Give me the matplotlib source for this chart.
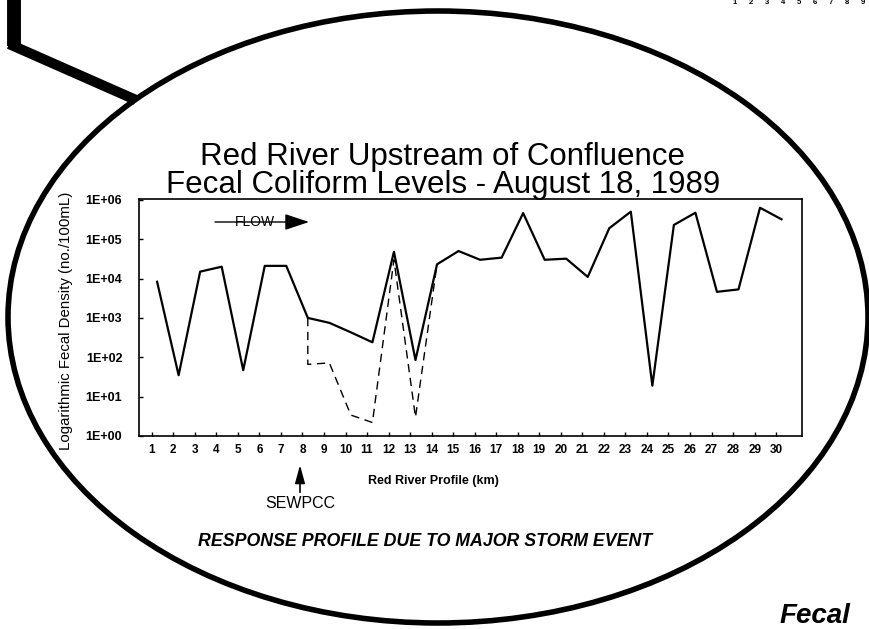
import matplotlib
matplotlib.use('Agg')
import matplotlib.pyplot as plt
from matplotlib.patches import Ellipse
from matplotlib.ticker import FixedLocator, FuncFormatter
import numpy as np

plt.rcParams['font.family'] = ['Liberation Sans', 'DejaVu Sans']

# profile stations (km) and fecal coliform densities (no./100mL)
km = list(range(1, 31))
km_labels = [str(k) for k in km]
fecal = [8.3e3, 35, 1.5e4, 2.0e4, 47, 2.1e4, 2.1e4, 1.0e3, 7.5e2, 4.3e2,
         2.4e2, 4.8e4, 85, 2.3e4, 5.0e4, 3.0e4, 3.4e4, 4.6e5, 3.0e4, 3.2e4,
         1.1e4, 1.9e5, 5.0e5, 19, 2.3e5, 4.7e5, 4.6e3, 5.3e3, 6.3e5, 3.2e5]

# storm response (dashed) below the SEWPCC outfall
storm_km = [8, 8, 9, 10, 11, 12, 13, 14]
storm = [1.0e3, 66, 72, 3.4, 2.2, 3.0e4, 3.0, 2.3e4]

y_ticks = [1e0, 1e1, 1e2, 1e3, 1e4, 1e5, 1e6]

# page-number strip of the neighbouring figure (top right)
strip_labels = ['1', '2', '3', '4', '5', '6', '7', '8', '9']

W, H = 870, 629
fig = plt.figure(figsize=(W / 100, H / 100), dpi=100)

# background layer in pixel coordinates
bg = fig.add_axes([0, 0, 1, 1])
bg.set_xlim(0, W)
bg.set_ylim(H, 0)
bg.axis('off')

bg.plot([14, 14], [-5, 46], color='k', lw=10, solid_capstyle='butt')
bg.plot([9, 136], [44, 100], color='k', lw=7.3, solid_capstyle='butt')
bg.add_patch(Ellipse((438, 317), 860, 612, fill=False, lw=4, ec='k'))

bg.text(443, 171, 'Red River Upstream of Confluence\n'
        'Fecal Coliform Levels - August 18, 1989', fontsize=22.5,
        ha='center', va='center', multialignment='center', linespacing=0.95)

bg.text(66, 321, 'Logarithmic Fecal Density (no./100mL)', fontsize=10.8,
        rotation=90, ha='center', va='center')
bg.text(433, 481, 'Red River Profile (km)', fontsize=9, fontweight='bold',
        ha='center', va='center')

bg.plot([300, 300], [478, 492], color='k', lw=1.2)
bg.annotate('', xy=(300, 465), xytext=(300, 482),
            arrowprops=dict(arrowstyle='-|>,head_length=1.1,head_width=0.3',
                            color='k', lw=1.2, shrinkA=0, shrinkB=0))
bg.text(300, 503, 'SEWPCC', fontsize=11.5, ha='center', va='center')

bg.text(425, 542, 'RESPONSE PROFILE DUE TO MAJOR STORM EVENT', fontsize=12.8,
        fontweight='bold', fontstyle='italic', ha='center', va='center')

# FLOW arrow
bg.annotate('', xy=(309, 222), xytext=(215, 222),
            arrowprops=dict(arrowstyle='-|>,head_length=1.5,head_width=0.5',
                            color='k', lw=1.0, shrinkA=0, shrinkB=0))
bg.text(255, 222, 'FLOW', fontsize=10, ha='center', va='center')

# bits of neighbouring figures
for i, s in enumerate(strip_labels):
    bg.text(735 + 16 * i, 3, s, fontsize=5.5, fontweight='bold',
            ha='center', va='center')
bg.text(815, 616, 'Fecal', fontsize=20, fontweight='bold', fontstyle='italic',
        ha='center', va='center')

# chart axes
x0, x1, y0, y1 = 139, 802, 199, 436
ax = fig.add_axes([x0 / W, 1 - y1 / H, (x1 - x0) / W, (y1 - y0) / H])
ax.set_facecolor('none')
ax.set_yscale('log')
ax.set_ylim(1, 1.05e6)
ax.set_xlim(0.41, 31.2)

xs = np.array(km) + 0.25
ax.plot(xs, fecal, color='k', lw=1.6)
ax.plot(np.array(storm_km) + 0.25, storm, color='k', lw=1.0,
        dashes=(6, 4))

ax.yaxis.set_major_locator(FixedLocator(y_ticks))
ax.yaxis.set_minor_locator(FixedLocator([]))
ax.yaxis.set_major_formatter(FuncFormatter(lambda v, p: '1E+%02d' % round(np.log10(v))))
ax.set_xticks(km)
ax.set_xticklabels(km_labels)
ax.tick_params(direction='in', length=3, width=1)
ax.tick_params(axis='y', labelsize=9, pad=12)
ax.tick_params(axis='x', labelsize=8.5, pad=6)
for lbl in ax.get_xticklabels() + ax.get_yticklabels():
    lbl.set_fontweight('bold')
for s in ax.spines.values():
    s.set_linewidth(1.2)

fig.savefig('out.png', dpi=100)
